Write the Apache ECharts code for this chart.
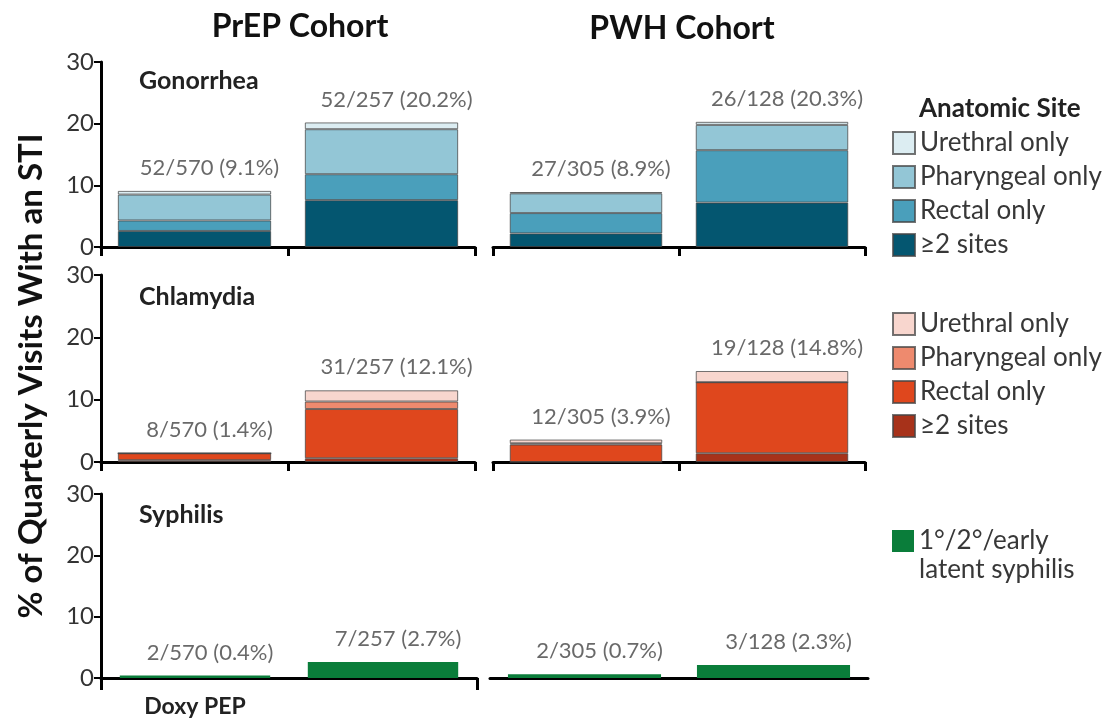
<!DOCTYPE html>
<html>
<head>
<meta charset="utf-8">
<script src="https://cdn.jsdelivr.net/npm/echarts@6/dist/echarts.min.js"></script>
<style>html,body{margin:0;padding:0;background:#fff}#c{width:1104px;height:721px}</style>
</head>
<body>
<div id="c"></div>
<script>
// ---- data ----
const cohorts = ['PrEP Cohort', 'PWH Cohort'];
const tickLabels = ['Doxy PEP', ''];
const yTicks = [0, 10, 20, 30];
const siteNames = ['Urethral only', 'Pharyngeal only', 'Rectal only', '\u22652 sites'];
const syphNameLines = ['1\u00b0/2\u00b0/early', 'latent syphilis'];
const syphName = syphNameLines.join(' ');

// Gonorrhea (% of visits), [Doxy PEP, other arm]
const gonoPrepUreth = [0.6, 1.1];
const gonoPrepPhar  = [4.2, 7.3];
const gonoPrepRect  = [1.7, 4.2];
const gonoPrepMulti = [2.6, 7.6];
const gonoPwhUreth  = [0.2, 0.5];
const gonoPwhPhar   = [3.2, 4.1];
const gonoPwhRect   = [3.3, 8.5];
const gonoPwhMulti  = [2.2, 7.2];
const gonoPrepLabels = ['52/570 (9.1%)', '52/257 (20.2%)'];
const gonoPwhLabels  = ['27/305 (8.9%)', '26/128 (20.3%)'];

// Chlamydia
const chlPrepUreth = [0, 1.8];
const chlPrepPhar  = [0, 1.2];
const chlPrepRect  = [1.1, 7.9];
const chlPrepMulti = [0.3, 0.6];
const chlPwhUreth  = [0.6, 1.8];
const chlPwhPhar   = [0.2, 0];
const chlPwhRect   = [2.8, 11.4];
const chlPwhMulti  = [0, 1.4];
const chlPrepLabels = ['8/570 (1.4%)', '31/257 (12.1%)'];
const chlPwhLabels  = ['12/305 (3.9%)', '19/128 (14.8%)'];

// Syphilis
const syphPrep = [0.4, 2.6];
const syphPwh  = [0.6, 2.1];
const syphPrepLabels = ['2/570 (0.4%)', '7/257 (2.7%)'];
const syphPwhLabels  = ['2/305 (0.7%)', '3/128 (2.3%)'];

// ---- styles ----
const FONT = 'Lato';
const gonoColors = ['#dcedf2', '#93c6d6', '#4a9fbb', '#045670'];
const chlColors  = ['#f8d6ce', '#ee8a6e', '#df471d', '#a7321a'];
const syphColor  = '#0a7d3a';

const grids = [
  {left: 101, width: 374, top: 62, height: 185},
  {left: 493, width: 372, top: 62, height: 185},
  {left: 101, width: 374, top: 275, height: 187},
  {left: 493, width: 372, top: 275, height: 187},
  {left: 101, width: 376, top: 494, height: 184},
  {left: 490, width: 378, top: 494, height: 184}
];

const xAxes = grids.map((g, i) => ({
  type: 'category', gridIndex: i, data: tickLabels, boundaryGap: true,
  axisLine: {show: true, lineStyle: {color: '#000', width: 3}},
  axisTick: {show: i !== 5, length: i === 4 ? 12 : 9, interval: i === 4 ? (idx => idx === 0) : 0,
    lineStyle: {color: '#000', width: 3}},
  axisLabel: {show: i === 4, fontFamily: FONT, fontWeight: 'bold', fontSize: 23, color: '#222', margin: 17}
}));
const yAxes = grids.map((g, i) => ({
  type: 'value', gridIndex: i, min: yTicks[0], max: yTicks[yTicks.length - 1], interval: 10,
  show: i % 2 === 0,
  splitLine: {show: false},
  axisLine: {show: true, lineStyle: {color: '#000', width: 3}},
  axisTick: {show: true, length: 7, lineStyle: {color: '#000', width: 2}},
  axisLabel: {fontFamily: FONT, fontSize: 24, color: '#333', margin: 7}
}));

const series = [];
function stackSeries(gi, prefix, arrs, colors) {
  // arrs ordered bottom -> top: multi, rect, phar, ureth
  const order = [3, 2, 1, 0];
  order.forEach((k, j) => {
    series.push({
      type: 'bar', name: prefix + siteNames[k], xAxisIndex: gi, yAxisIndex: gi,
      stack: 's' + gi, data: arrs[j], barWidth: '82%',
      itemStyle: {color: colors[k], borderColor: 'rgba(70,70,70,0.75)', borderWidth: 1},
      emphasis: {disabled: true}
    });
  });
}
function labelSeries(gi, totals, texts) {
  series.push({
    type: 'scatter', xAxisIndex: gi, yAxisIndex: gi, symbolSize: 0, silent: true,
    data: totals.map((t, i) => [i, t]),
    label: {show: true, position: 'top', distance: 12, offset: [15, 0],
      fontFamily: FONT, fontSize: 22, color: '#444',
      formatter: p => texts[p.dataIndex]}
  });
}
const sum = (...arrs) => arrs[0].map((_, i) => arrs.reduce((a, b) => a + b[i], 0));

stackSeries(0, 'G|', [gonoPrepMulti, gonoPrepRect, gonoPrepPhar, gonoPrepUreth], gonoColors);
labelSeries(0, sum(gonoPrepMulti, gonoPrepRect, gonoPrepPhar, gonoPrepUreth), gonoPrepLabels);
stackSeries(1, 'G|', [gonoPwhMulti, gonoPwhRect, gonoPwhPhar, gonoPwhUreth], gonoColors);
labelSeries(1, sum(gonoPwhMulti, gonoPwhRect, gonoPwhPhar, gonoPwhUreth), gonoPwhLabels);
stackSeries(2, 'C|', [chlPrepMulti, chlPrepRect, chlPrepPhar, chlPrepUreth], chlColors);
labelSeries(2, sum(chlPrepMulti, chlPrepRect, chlPrepPhar, chlPrepUreth), chlPrepLabels);
stackSeries(3, 'C|', [chlPwhMulti, chlPwhRect, chlPwhPhar, chlPwhUreth], chlColors);
labelSeries(3, sum(chlPwhMulti, chlPwhRect, chlPwhPhar, chlPwhUreth), chlPwhLabels);
[[4, syphPrep, syphPrepLabels], [5, syphPwh, syphPwhLabels]].forEach(([gi, d, t]) => {
  series.push({type: 'bar', name: 'S|' + syphName, xAxisIndex: gi, yAxisIndex: gi, data: d,
    barWidth: gi === 4 ? '80%' : '81%', itemStyle: {color: syphColor}, emphasis: {disabled: true}});
  labelSeries(gi, d, t);
});

const legendText = {fontFamily: FONT, fontSize: 26, fontWeight: 'normal', color: '#383838'};
const legendBase = {orient: 'vertical', left: 887, itemWidth: 22, itemHeight: 22, itemGap: 8,
  icon: 'rect', selectedMode: false, textStyle: legendText, formatter: n => n.slice(2)};

const option = {
  animation: false,
  backgroundColor: '#fff',
  grid: grids,
  xAxis: xAxes,
  yAxis: yAxes,
  series: series,
  legend: [
    Object.assign({}, legendBase, {top: 125, data: siteNames.map(s => 'G|' + s)}),
    Object.assign({}, legendBase, {top: 306, data: siteNames.map(s => 'C|' + s)}),
    Object.assign({}, legendBase, {top: 523, data: ['S|' + syphName],
      formatter: () => syphNameLines[0]})
  ],
  title: [
    {text: cohorts[0], left: 295, top: 6, textAlign: 'center', textStyle: {fontFamily: FONT, fontWeight: 'bold', fontSize: 32, color: '#111'}},
    {text: cohorts[1], left: 677, top: 8, textAlign: 'center', textStyle: {fontFamily: FONT, fontWeight: 'bold', fontSize: 32, color: '#111'}},
    {text: 'Gonorrhea', left: 134, top: 63, textStyle: {fontFamily: FONT, fontWeight: 'bold', fontSize: 25, color: '#222'}},
    {text: 'Chlamydia', left: 134, top: 279, textStyle: {fontFamily: FONT, fontWeight: 'bold', fontSize: 25, color: '#222'}},
    {text: 'Syphilis', left: 134, top: 497, textStyle: {fontFamily: FONT, fontWeight: 'bold', fontSize: 25, color: '#222'}},
    {text: 'Anatomic Site', left: 914, top: 91, textStyle: {fontFamily: FONT, fontWeight: 'bold', fontSize: 26, color: '#222'}},
    {text: syphNameLines[1], left: 919, top: 557, padding: 0, textStyle: legendText}
  ],
  graphic: [
    {type: 'text', x: 31, y: 376, rotation: Math.PI / 2,
      style: {text: '% of Quarterly Visits With an STI', font: 'bold 33px ' + FONT, fill: '#111',
        align: 'center', verticalAlign: 'middle'}}
  ]
};
const chart = echarts.init(document.getElementById('c'), null, {renderer: 'canvas'});
chart.setOption(option);
</script>
</body>
</html>
